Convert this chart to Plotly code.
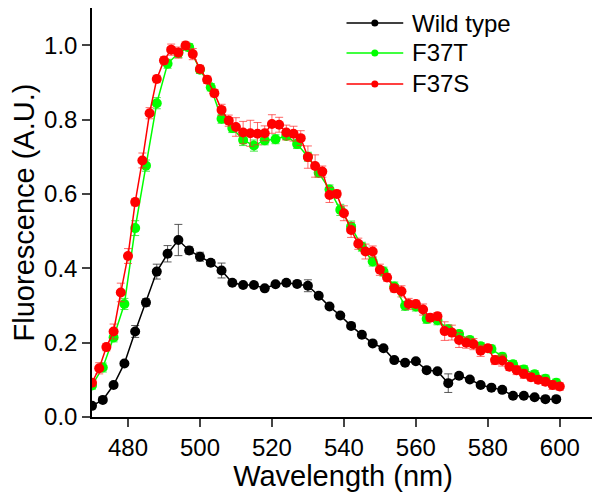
import plotly.graph_objects as go

# Wild type: markers every 3 nm
wt_nm = list(range(470, 600, 3))
wt_val = [0.030, 0.046, 0.086, 0.144, 0.230, 0.308, 0.391, 0.439, 0.476, 0.448,
          0.431, 0.415, 0.394, 0.361, 0.355, 0.355, 0.346, 0.357, 0.361, 0.358,
          0.353, 0.326, 0.297, 0.273, 0.245, 0.221, 0.198, 0.185, 0.153, 0.146,
          0.150, 0.126, 0.123, 0.091, 0.111, 0.101, 0.086, 0.079, 0.073, 0.057,
          0.057, 0.053, 0.048, 0.048]
wt_err = [0.000, 0.005, 0.005, 0.005, 0.016, 0.010, 0.020, 0.022, 0.042, 0.010,
          0.012, 0.008, 0.020, 0.005, 0.005, 0.005, 0.005, 0.005, 0.005, 0.005,
          0.016, 0.005, 0.005, 0.005, 0.005, 0.005, 0.005, 0.005, 0.005, 0.005,
          0.005, 0.005, 0.005, 0.025, 0.005, 0.005, 0.005, 0.005, 0.005, 0.005,
          0.005, 0.005, 0.005, 0.005]

# F37T: markers every 3 nm
t_nm = list(range(470, 600, 3))
t_val = [0.085, 0.133, 0.214, 0.304, 0.508, 0.676, 0.844, 0.950, 0.979, 0.994,
         0.934, 0.887, 0.802, 0.777, 0.745, 0.730, 0.744, 0.747, 0.756, 0.734,
         0.700, 0.657, 0.612, 0.557, 0.512, 0.458, 0.418, 0.391, 0.351, 0.299,
         0.297, 0.264, 0.260, 0.236, 0.223, 0.207, 0.190, 0.183, 0.162, 0.142,
         0.128, 0.115, 0.103, 0.092]
t_err = [0.010, 0.012, 0.012, 0.015, 0.020, 0.015, 0.015, 0.012, 0.012, 0.010,
         0.010, 0.010, 0.012, 0.012, 0.015, 0.015, 0.012, 0.012, 0.010, 0.012,
         0.012, 0.012, 0.012, 0.015, 0.015, 0.012, 0.012, 0.012, 0.012, 0.012,
         0.012, 0.012, 0.012, 0.012, 0.010, 0.010, 0.010, 0.010, 0.010, 0.010,
         0.010, 0.010, 0.010, 0.010]

# F37S: markers every 2 nm
s_nm = list(range(470, 601, 2))
s_val = [0.092, 0.131, 0.188, 0.230, 0.335, 0.433, 0.578, 0.690, 0.817, 0.909,
         0.959, 0.988, 0.980, 0.999, 0.976, 0.936, 0.907, 0.871, 0.826, 0.797,
         0.780, 0.765, 0.763, 0.762, 0.763, 0.788, 0.786, 0.765, 0.762, 0.750,
         0.699, 0.675, 0.660, 0.597, 0.600, 0.548, 0.503, 0.466, 0.445, 0.445,
         0.396, 0.375, 0.346, 0.338, 0.304, 0.304, 0.289, 0.267, 0.271, 0.231,
         0.227, 0.207, 0.200, 0.196, 0.178, 0.185, 0.153, 0.152, 0.135, 0.126,
         0.116, 0.107, 0.100, 0.095, 0.086, 0.082]
s_err = [0.010, 0.015, 0.010, 0.020, 0.025, 0.020, 0.010, 0.020, 0.015, 0.010,
         0.010, 0.015, 0.015, 0.010, 0.015, 0.010, 0.010, 0.010, 0.015, 0.015,
         0.025, 0.030, 0.035, 0.030, 0.020, 0.025, 0.020, 0.020, 0.020, 0.020,
         0.030, 0.030, 0.015, 0.020, 0.010, 0.020, 0.020, 0.015, 0.020, 0.015,
         0.015, 0.010, 0.010, 0.015, 0.015, 0.010, 0.015, 0.010, 0.010, 0.025,
         0.020, 0.020, 0.015, 0.015, 0.015, 0.010, 0.012, 0.015, 0.010, 0.012,
         0.012, 0.010, 0.010, 0.010, 0.012, 0.010]

series = [
    ("Wild type", wt_nm, wt_val, wt_err, "#000000", "rgba(60,60,60,0.85)"),
    ("F37T", t_nm, t_val, t_err, "#00ff00", "rgba(0,220,0,0.7)"),
    ("F37S", s_nm, s_val, s_err, "#ff0000", "rgba(255,40,40,0.7)"),
]

fig = go.Figure()
for name, x, y, e, col, ecol in series:
    fig.add_trace(go.Scatter(
        x=x, y=y, mode="lines+markers", name=name, showlegend=False,
        line=dict(color=col, width=1.5),
        marker=dict(color=col, size=10),
        error_y=dict(type="data", array=e, color=ecol, thickness=1, width=4),
    ))

axis_font = dict(family="Liberation Sans, Arial", size=24, color="black")

# legend drawn by hand (longer key lines, tighter rows, as in the original)
key_rows = [0.9633, 0.890, 0.8142]
for (name, x, y, e, col, ecol), ky in zip(series, key_rows):
    fig.add_shape(type="line", xref="paper", yref="paper",
                  x0=0.507, x1=0.620, y0=ky, y1=ky, line=dict(color=col, width=1.5))
    fig.add_shape(type="circle", xref="paper", yref="paper",
                  xsizemode="pixel", ysizemode="pixel", xanchor=0.5634, yanchor=ky,
                  x0=-3.5, x1=3.5, y0=-3.5, y1=3.5,
                  fillcolor=col, line=dict(color=col, width=0))
    fig.add_annotation(text=name, xref="paper", yref="paper", x=0.6337, y=ky,
                       xanchor="left", yanchor="middle", showarrow=False, font=axis_font)

# page body adds an 8px offset, so the figure is 592x484
fig.update_layout(
    width=592, height=484,
    margin=dict(l=81, r=6, t=0, b=75),
    paper_bgcolor="white", plot_bgcolor="white",
    font=axis_font,
    showlegend=False,
    xaxis=dict(range=[470, 609.5], tickvals=[480, 500, 520, 540, 560, 580, 600],
               ticks="outside", ticklen=8, tickwidth=1.5, showline=True,
               linecolor="black", linewidth=1.5, showgrid=False, zeroline=False,
               title=dict(text="Wavelength (nm)", standoff=0), tickfont=axis_font),
    yaxis=dict(range=[0, 1.1], tickvals=[0, 0.2, 0.4, 0.6, 0.8, 1.0], tickformat=".1f",
               ticks="outside", ticklen=8, tickwidth=1.5, showline=True,
               linecolor="black", linewidth=1.5, showgrid=False, zeroline=False,
               title=dict(text="Fluorescence (A.U.)", standoff=16), tickfont=axis_font),
)

fig.write_html("out.html")
